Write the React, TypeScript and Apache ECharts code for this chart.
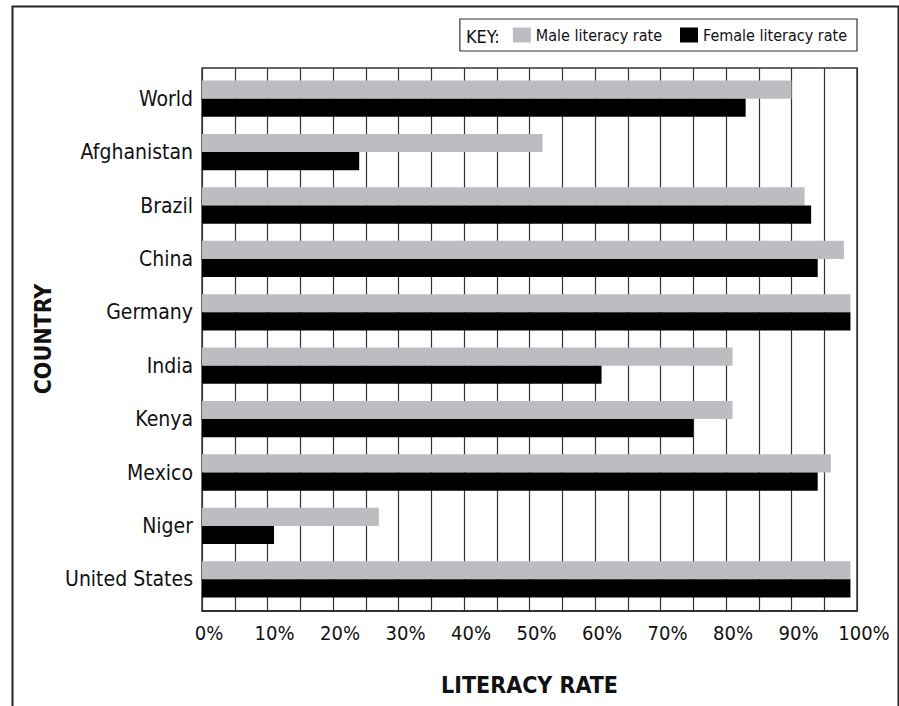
import React, { useEffect, useRef } from "react";
import * as echarts from "echarts";

const countries = ["World", "Afghanistan", "Brazil", "China", "Germany", "India", "Kenya", "Mexico", "Niger", "United States"];
const maleRates = [90, 52, 92, 98, 99, 81, 81, 96, 27, 99];
const femaleRates = [83, 24, 93, 94, 99, 61, 75, 94, 11, 99];
const seriesNames = ["Male literacy rate", "Female literacy rate"];

const FONT = "'Liberation Sans Narrow', 'DejaVu Sans Condensed', 'Roboto Condensed', sans-serif";

export default function App() {
  const ref = useRef<HTMLDivElement>(null);
  useEffect(() => {
    if (!ref.current) return;
    const chart = echarts.init(ref.current, null, { renderer: "svg" });
    chart.setOption({
      animation: false,
      backgroundColor: "#ffffff",
      textStyle: { fontFamily: FONT },
      grid: [
        {
          left: 202,
          right: 42,
          top: 68,
          bottom: 95,
          show: true,
          borderColor: "#333",
          borderWidth: 1.4,
          containLabel: false,
        },
        {
          left: 202,
          right: 42,
          top: 72,
          bottom: 100,
          show: false,
          containLabel: false,
        },
      ],
      legend: {
        data: seriesNames,
        right: 42,
        top: 19,
        orient: "horizontal",
        icon: "rect",
        itemWidth: 18,
        itemHeight: 15,
        itemGap: 18,
        padding: [8, 10, 8, 53],
        borderColor: "#333",
        borderWidth: 1.2,
        textStyle: { fontFamily: FONT, fontSize: 16, color: "#111" },
        selectedMode: false,
      },
      xAxis: [
        {
          type: "value",
          gridIndex: 0,
          min: 0,
          max: 100,
          interval: 10,
          name: "LITERACY RATE",
          nameLocation: "middle",
          nameGap: 62,
          nameMoveOverlap: false,
          nameTextStyle: { fontFamily: FONT, fontSize: 23, fontWeight: "bold", color: "#111" },
          axisLine: { show: true, lineStyle: { color: "#222", width: 1.5 } },
          axisTick: { show: false },
          axisLabel: {
            formatter: (v: number) => v + "%",
            fontFamily: FONT,
            fontSize: 20,
            color: "#111",
            margin: 12,
            padding: [0, 0, 0, 14],
          },
          splitLine: { show: true, lineStyle: { color: "#333", width: 1.2 } },
          minorTick: { show: false, splitNumber: 2 },
          minorSplitLine: { show: true, lineStyle: { color: "#333", width: 1.2 } },
        },
        {
          type: "value",
          gridIndex: 1,
          min: 0,
          max: 100,
          interval: 10,
          show: false,
        },
      ],
      yAxis: [
        {
          type: "value",
          gridIndex: 0,
          show: false,
          splitLine: { show: false },
        },
        {
          type: "category",
          gridIndex: 1,
          data: countries,
          inverse: true,
          name: "COUNTRY",
          nameLocation: "middle",
          nameRotate: 90,
          nameGap: 148,
          nameMoveOverlap: false,
          nameTextStyle: { fontFamily: FONT, fontSize: 23, fontWeight: "bold", color: "#111" },
          axisLine: { show: false },
          axisTick: { show: false },
          axisLabel: { fontFamily: FONT, fontSize: 21, color: "#111", margin: 9 },
          splitLine: { show: false },
        },
      ],
      series: [
        {
          name: seriesNames[0],
          type: "bar",
          xAxisIndex: 1,
          yAxisIndex: 1,
          data: maleRates,
          itemStyle: { color: "#bcbdc0" },
          barGap: "0%",
          barCategoryGap: "32%",
        },
        {
          name: seriesNames[1],
          type: "bar",
          xAxisIndex: 1,
          yAxisIndex: 1,
          data: femaleRates,
          itemStyle: { color: "#000000" },
          barGap: "0%",
          barCategoryGap: "32%",
        },
      ],
      graphic: [
        {
          type: "rect",
          left: 10,
          top: 4,
          shape: { width: 886, height: 740 },
          style: { fill: "none", stroke: "#222", lineWidth: 2 },
          silent: true,
        },
        {
          type: "text",
          x: 466,
          y: 36,
          style: { text: "KEY:", fontFamily: FONT, fontSize: 18, fill: "#111", verticalAlign: "middle", align: "left" },
          silent: true,
        },
      ],
    });
    return () => chart.dispose();
  }, []);
  return <div ref={ref} style={{ position: "fixed", left: 0, top: 0, width: 899, height: 706 }} />;
}
